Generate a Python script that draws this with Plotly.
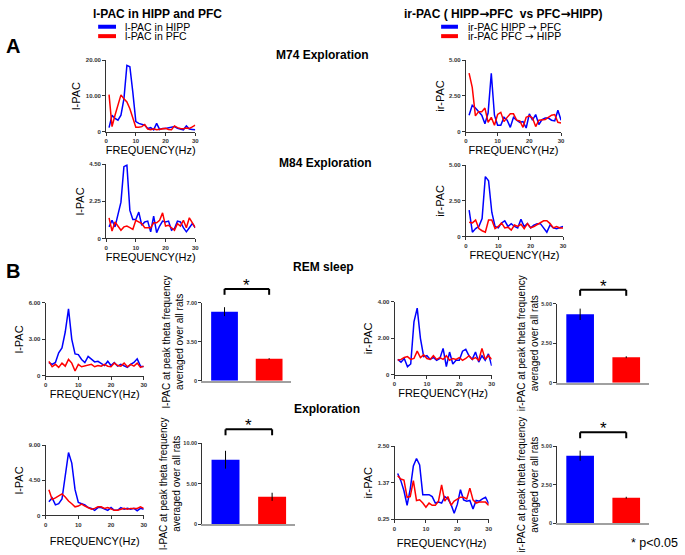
import plotly.graph_objects as go

W, H = 685, 555
FONT = "Liberation Sans, Arial, sans-serif"
BLUE, RED = "#0000ff", "#ff0000"
AXC = "#333333"
ARROW = '<span style="font-family:DejaVu Sans">→</span>'

freq = list(range(1, 31))

# panel A, M74 exploration
m74_lpac_hipp = [1.1, 4.6, 3.7, 3.2, 4.6, 9.2, 18.6, 18.2, 11.0, 2.8, 2.3, 2.1, 1.8, 0.9, 1.1,
                 0.5, 2.3, 0.6, 0.9, 0.9, 1.1, 1.1, 1.4, 0.9, 0.6, 0.5, 1.6, 0.7, 0.6, 0.5]
m74_lpac_pfc = [10.4, 1.4, 4.6, 7.4, 10.3, 9.2, 8.3, 6.4, 3.7, 1.2, 1.2, 1.4, 2.0, 0.7, 0.5,
                0.8, 0.5, 0.6, 0.7, 0.9, 0.6, 0.5, 1.6, 1.1, 0.9, 0.8, 1.0, 0.9, 1.3, 1.8]
m74_ir_hipp = [1.15, 1.85, 1.65, 1.4, 1.15, 0.55, 1.3, 4.1, 1.15, 0.45, 0.45, 1.0, 0.8, 0.3, 1.0,
               0.8, 0.65, 0.7, 0.25, 1.25, 0.8, 1.2, 0.5, 0.85, 0.95, 0.95, 0.8, 0.75, 1.5, 0.8]
m74_ir_pfc = [4.1, 3.1, 1.1, 1.4, 1.4, 1.65, 0.65, 1.0, 0.45, 1.2, 1.35, 0.7, 1.0, 1.25, 1.25,
              0.8, 0.75, 0.3, 1.0, 1.1, 0.95, 0.35, 0.8, 0.85, 0.85, 1.0, 1.15, 1.2, 0.65, 0.6]

# panel A, M84 exploration
m84_lpac_hipp = [0.7, 1.1, 0.7, 1.4, 2.2, 4.35, 4.45, 1.7, 1.15, 1.15, 1.6, 0.8, 1.0, 1.05, 0.4,
                 1.35, 0.35, 0.75, 1.05, 1.0, 1.05, 0.5, 0.6, 1.05, 1.0, 0.65, 0.4, 0.65, 0.9, 0.65]
m84_lpac_pfc = [1.25, 0.45, 1.0, 0.75, 0.5, 0.7, 0.75, 0.65, 0.55, 1.1, 1.0, 0.9, 0.65, 0.65, 0.65,
                0.95, 0.95, 1.1, 1.55, 0.75, 0.8, 0.65, 0.5, 0.9, 0.75, 1.1, 0.65, 1.25, 0.95, 0.65]
m84_ir_hipp = [1.85, 0.3, 0.55, 0.7, 1.25, 4.2, 3.9, 1.7, 0.7, 0.6, 0.95, 1.1, 0.7, 0.9, 0.7,
               0.6, 1.2, 0.7, 0.9, 0.6, 0.8, 0.9, 0.9, 0.6, 0.3, 0.8, 0.6, 0.55, 0.65, 0.7]
m84_ir_pfc = [1.0, 0.95, 1.15, 0.55, 0.4, 0.3, 1.15, 1.15, 0.55, 0.7, 0.95, 0.6, 0.65, 0.45, 0.8,
              0.7, 0.85, 0.55, 0.9, 0.6, 0.7, 0.85, 0.95, 1.1, 1.1, 0.9, 0.6, 0.7, 0.6, 0.6]

# panel B, REM sleep
rem_lpac_hipp = [1.1, 0.95, 1.1, 1.9, 2.3, 3.6, 5.5, 3.0, 1.8, 1.75, 1.35, 1.1, 1.6, 1.35, 1.15,
                 1.2, 1.0, 0.85, 1.2, 0.85, 1.1, 0.8, 0.95, 0.8, 0.7, 0.95, 1.1, 1.4, 0.8, 0.75]
rem_lpac_pfc = [1.2, 0.75, 0.95, 0.7, 1.05, 0.8, 1.35, 1.05, 0.4, 0.95, 0.75, 0.8, 0.85, 0.95, 0.75,
                0.85, 0.8, 0.95, 0.8, 0.75, 1.05, 0.85, 0.8, 1.05, 0.75, 0.95, 0.8, 1.05, 0.7, 0.8]
rem_ir_hipp = [0.85, 0.7, 0.9, 0.45, 0.6, 2.9, 3.65, 2.0, 1.0, 1.05, 0.85, 0.95, 0.8, 0.9, 1.45,
               0.45, 1.25, 0.6, 0.8, 0.8, 1.3, 1.4, 1.05, 0.85, 1.25, 0.7, 1.05, 0.8, 1.15, 0.5]
rem_ir_pfc = [0.8, 0.85, 0.95, 1.0, 0.85, 0.9, 1.3, 0.95, 1.1, 0.9, 0.85, 1.05, 0.85, 0.95, 0.85,
              1.05, 0.8, 0.9, 0.85, 0.95, 0.8, 0.9, 1.05, 0.85, 0.95, 0.8, 1.45, 0.85, 1.05, 0.85]

# panel B, exploration
exp_lpac_hipp = [1.75, 2.25, 1.35, 1.5, 2.1, 4.8, 8.05, 6.7, 3.3, 1.65, 1.5, 1.35, 1.0, 0.9, 0.65,
                 1.0, 1.0, 0.8, 0.65, 1.0, 0.65, 0.65, 1.0, 0.8, 0.9, 0.8, 0.9, 0.6, 0.9, 0.8]
exp_lpac_pfc = [3.3, 2.05, 2.25, 2.5, 2.75, 2.35, 1.85, 1.5, 1.1, 1.2, 1.45, 1.2, 1.0, 0.8, 0.9,
                1.1, 1.1, 0.9, 1.0, 0.8, 0.65, 0.65, 0.8, 0.9, 0.8, 0.9, 0.9, 0.9, 1.1, 0.9]
exp_ir_hipp = [1.66, 1.44, 1.13, 0.68, 1.18, 1.89, 2.12, 1.92, 1.01, 1.01, 1.01, 0.95, 0.75, 0.78, 0.75,
               0.95, 0.88, 0.71, 0.44, 0.71, 1.16, 0.85, 0.81, 0.83, 0.57, 0.83, 0.81, 0.88, 0.93, 0.73]
exp_ir_pfc = [1.59, 1.49, 1.46, 0.93, 0.95, 1.44, 0.83, 0.85, 0.75, 0.62, 0.75, 0.68, 0.68, 0.81, 1.31,
              0.81, 0.95, 0.68, 0.81, 0.88, 0.93, 0.93, 0.88, 1.21, 0.85, 0.75, 0.78, 0.78, 0.78, 0.68]

# peak theta bars (mean, sem)
bar_groups = ["HIPP", "PFC"]
rem_lpac_bar, rem_lpac_err = [6.2, 1.97], [0.4, 0.06]
rem_ir_bar, rem_ir_err = [4.33, 1.62], [0.36, 0.06]
exp_lpac_bar, exp_lpac_err = [7.96, 3.39], [1.1, 0.5]
exp_ir_bar, exp_ir_err = [4.38, 1.66], [0.33, 0.06]

LINE_T = "FREQUENCY(Hz)"
BAR_T_L = "l-PAC at peak theta frequency<br>averaged over all rats"
BAR_T_IR = "ir-PAC at peak theta frequency<br>averaged over all rats"

# plot boxes in px: x0, x1, ytop, ybottom
line_panels = [
    (m74_lpac_hipp, m74_lpac_pfc, (105, 195, 58, 130), [0, 20], [0, 10, 20], ["0", "10.00", "20.00"], "l-PAC", 1),
    (m74_ir_hipp, m74_ir_pfc, (468, 564, 58, 130), [0, 5], [0, 2.5, 5], ["0", "2.50", "5.00"], "ir-PAC", 1),
    (m84_lpac_hipp, m84_lpac_pfc, (105, 195, 163, 238), [0, 4.5], [0, 2.25, 4.5], ["0", "2.25", "4.50"], "l-PAC", 2),
    (m84_ir_hipp, m84_ir_pfc, (468, 566, 164, 236), [0, 5], [0, 2.5, 5], ["0", "2.50", "5.00"], "ir-PAC", 2),
    (rem_lpac_hipp, rem_lpac_pfc, (44, 143, 303, 377), [0, 6], [0, 3, 6], ["0", "3.00", "6.00"], "l-PAC", 1),
    (rem_ir_hipp, rem_ir_pfc, (396, 494, 302, 376), [0, 4], [0, 2, 4], ["0", "2.00", "4.00"], "ir-PAC", 2),
    (exp_lpac_hipp, exp_lpac_pfc, (44, 143, 447, 518), [0, 9], [0, 4.5, 9], ["0", "4.50", "9.00"], "l-PAC", 10),
    (exp_ir_hipp, exp_ir_pfc, (396, 491, 448, 522), [0.25, 2.5], [0.25, 1.37, 2.5], ["0.25", "1.37", "2.50"], "ir-PAC", 8),
]
bar_panels = [
    (rem_lpac_bar, rem_lpac_err, (202, 292, 303, 382), [0, 7], [0, 3.5, 7], ["0", "3.50", "7.00"], BAR_T_L),
    (rem_ir_bar, rem_ir_err, (560, 653, 304, 384), [0, 5], [0, 2.5, 5], ["0", "2.50", "5.00"], BAR_T_IR),
    (exp_lpac_bar, exp_lpac_err, (202, 296, 445, 527), [0, 10], [0, 5, 10], ["0", "5.00", "10.00"], BAR_T_L),
    (exp_ir_bar, exp_ir_err, (560, 653, 448, 526), [0, 5], [0, 2.5, 5], ["0", "2.50", "5.00"], BAR_T_IR),
]


def dx(a, b):
    return [a / W, b / W]


def dy(top, bot):
    return [1 - bot / H, 1 - top / H]


tickfont = dict(size=6, color=AXC, family=FONT, weight="bold")
fig = go.Figure()
lay = {}
shapes, annos = [], []

n = 0
for hipp, pfc, box, yr, tv, tt, ytitle, stand in line_panels:
    n += 1
    sx = "" if n == 1 else str(n)
    fig.add_trace(go.Scatter(x=freq, y=hipp, mode="lines", line=dict(color=BLUE, width=1.5),
                             xaxis="x" + sx, yaxis="y" + sx))
    fig.add_trace(go.Scatter(x=freq, y=pfc, mode="lines", line=dict(color=RED, width=1.5),
                             xaxis="x" + sx, yaxis="y" + sx))
    lay["xaxis" + sx] = dict(domain=dx(box[0], box[1]), anchor="y" + sx, range=[0, 30],
                             tickvals=[0, 10, 20, 30], showline=True, linecolor=AXC, ticks="outside",
                             ticklen=3, tickcolor=AXC, tickfont=tickfont, showgrid=False, zeroline=False,
                             title=dict(text=LINE_T, font=dict(size=11), standoff=stand))
    lay["yaxis" + sx] = dict(domain=dy(box[2], box[3]), anchor="x" + sx, range=yr,
                             tickvals=tv, ticktext=tt, showline=True, linecolor=AXC, ticks="outside",
                             ticklen=3, tickcolor=AXC, tickfont=tickfont, showgrid=False, zeroline=False,
                             title=dict(text=ytitle, font=dict(size=11), standoff=2))

for vals, errs, box, yr, tv, tt, ytitle in bar_panels:
    n += 1
    sx = str(n)
    fig.add_trace(go.Bar(x=bar_groups, y=vals, width=0.6, marker=dict(color=[BLUE, RED], line_width=0),
                         error_y=dict(type="data", array=errs, color="black", thickness=1, width=0),
                         xaxis="x" + sx, yaxis="y" + sx))
    lay["xaxis" + sx] = dict(domain=dx(box[0], box[1]), anchor="y" + sx, range=[-0.5, 1.5],
                             showticklabels=False, showline=True, linecolor="#a0a0a0", linewidth=2,
                             ticks="", showgrid=False, zeroline=False)
    lay["yaxis" + sx] = dict(domain=dy(box[2], box[3]), anchor="x" + sx, range=yr,
                             tickvals=tv, ticktext=tt, showline=True, linecolor=AXC, ticks="outside",
                             ticklen=3, tickcolor=AXC, tickfont=dict(tickfont, size=5.5),
                             showgrid=False, zeroline=False,
                             title=dict(text=ytitle, font=dict(size=10), standoff=0))
    # significance bracket between the two bar centres
    h = box[3] - box[2]
    top, tip = 1 + 14 / h, 1 + 8 / h
    xr = f"x{n} domain"
    yrf = f"y{n} domain"
    for x0, y0, x1, y1 in [(0.25, top, 0.75, top), (0.25, tip, 0.25, top), (0.75, tip, 0.75, top)]:
        shapes.append(dict(type="line", xref=xr, yref=yrf, x0=x0, y0=y0, x1=x1, y1=y1,
                           line=dict(color="black", width=2)))
    annos.append(dict(xref=xr, yref=yrf, x=0.5, y=top - 8 / h, yanchor="bottom", text="*",
                      showarrow=False, font=dict(size=17, color="black")))


def txt(x, y, text, size, bold=False, xanchor="center"):
    annos.append(dict(xref="paper", yref="paper", x=x / W, y=1 - y / H, text=f"<b>{text}</b>" if bold else text,
                      showarrow=False, xanchor=xanchor, yanchor="middle", font=dict(size=size, color="black")))


txt(157, 11, "l-PAC in HIPP and PFC", 12, True)
txt(506, 11, f"ir-PAC ( HIPP{ARROW}PFC  vs PFC{ARROW}HIPP)", 12, True)
txt(11, 43, "A", 20, True)
txt(11, 271, "B", 20, True)
txt(323, 53, "M74 Exploration", 12, True)
txt(326, 162, "M84 Exploration", 12, True)
txt(324, 267, "REM sleep", 12, True)
txt(328, 410, "Exploration", 12, True)
txt(684, 546, "* p<0.05", 12.5, False, "right")

# hand-made legends
for lx0, lx1, tx, labels in [(97, 115, 122, ["l-PAC in HIPP", "l-PAC in PFC"]),
                             (443, 460, 468, [f"ir-PAC HIPP {ARROW} PFC", f"ir-PAC PFC {ARROW} HIPP"])]:
    for ly, col, lab in [(24, BLUE, labels[0]), (33.5, RED, labels[1])]:
        shapes.append(dict(type="line", xref="paper", yref="paper", x0=lx0 / W, x1=lx1 / W,
                           y0=1 - ly / H, y1=1 - ly / H, line=dict(color=col, width=4)))
        txt(tx, ly, lab, 10.5, False, "left")

fig.update_layout(
    width=W, height=H, autosize=False, margin=dict(l=0, r=0, t=0, b=0),
    paper_bgcolor="white", plot_bgcolor="white", showlegend=False,
    font=dict(family=FONT, color="black"),
    shapes=shapes, annotations=annos, **lay,
)
fig.write_html("out.html", config={"displayModeBar": False},
               post_script="document.body.style.margin='0';")
